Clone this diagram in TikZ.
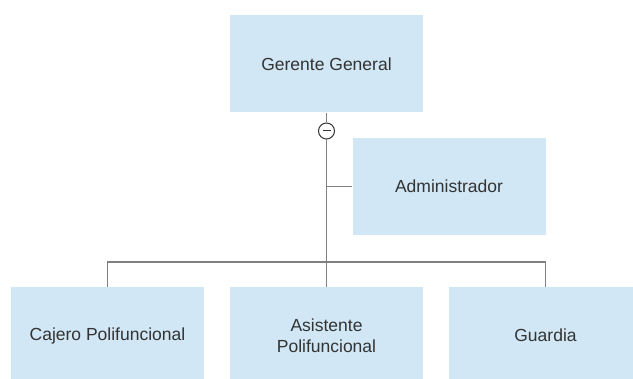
\documentclass[tikz,border=0pt]{standalone}
\usepackage{fontspec}
\setmainfont{Liberation Sans}
\definecolor{boxblue}{HTML}{D1E7F5}
\definecolor{linegray}{HTML}{808080}
\definecolor{textgray}{HTML}{333333}
\tikzset{
  rolebox/.style={fill=boxblue,draw=none,minimum width=193pt,minimum height=97pt,
    inner sep=0pt,text=textgray,font=\fontsize{17.5}{21}\selectfont,align=center},
  orgline/.style={draw=linegray,line width=1.2pt},
  collapse/.style={circle,draw=textgray,fill=white,line width=1pt,minimum size=16pt,inner sep=0pt}
}
\begin{document}
\begin{tikzpicture}[x=1pt,y=-1pt]
\useasboundingbox (0,0) rectangle (633,379);
\begin{scope}
\clip (0,0) rectangle (633,379);
\node[rolebox] (gg) at (326.5,64) {Gerente General};
\node[rolebox] (adm) at (449,186.5) {Administrador};
\foreach \n/\x/\t in {caj/107.5/Cajero Polifuncional,asi/326.5/{Asistente\\Polifuncional},gua/545.5/Guardia}
{
\node[rolebox] (\n) at (\x,335.5) {\t};
}
\coordinate (bus) at (326.5,262);
\node[collapse] (col) at (326.5,131) {};
\draw[orgline] (gg) -- (col);
\draw[orgline] (col) -- (asi);
\draw[orgline] (col |- adm) -- (adm);
\draw[orgline] (caj) |- (bus) -| (gua);
\draw[textgray,line width=1pt] ([xshift=-4pt]col.center) -- ([xshift=4pt]col.center);
\end{scope}
\end{tikzpicture}
\end{document}
